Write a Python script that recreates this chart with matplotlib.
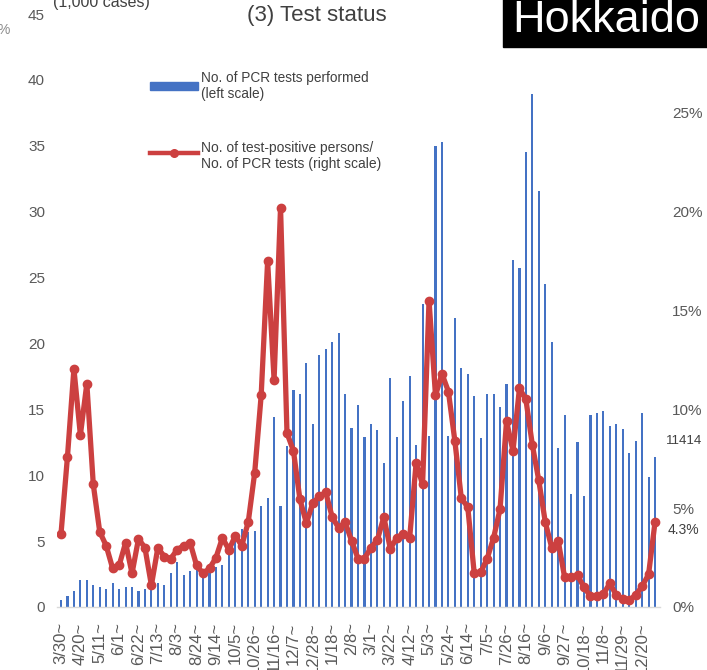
import matplotlib
matplotlib.use("Agg")
import matplotlib.pyplot as plt
from matplotlib import font_manager
from matplotlib.lines import Line2D
from matplotlib.patches import Rectangle

# ---------------- data ----------------
weeks = [
    "3/30", "4/6", "4/13", "4/20", "4/27", "5/4", "5/11", "5/18", "5/25", "6/1",
    "6/8", "6/15", "6/22", "6/29", "7/6", "7/13", "7/20", "7/27", "8/3", "8/10",
    "8/17", "8/24", "8/31", "9/7", "9/14", "9/21", "9/28", "10/5", "10/12", "10/19",
    "10/26", "11/2", "11/9", "11/16", "11/23", "11/30", "12/7", "12/14", "12/21", "12/28",
    "1/4", "1/11", "1/18", "1/25", "2/1", "2/8", "2/15", "2/22", "3/1", "3/8",
    "3/15", "3/22", "3/29", "4/5", "4/12", "4/19", "4/26", "5/3", "5/10", "5/17",
    "5/24", "5/31", "6/7", "6/14", "6/21", "6/28", "7/5", "7/12", "7/19", "7/26",
    "8/2", "8/9", "8/16", "8/23", "8/30", "9/6", "9/13", "9/20", "9/27", "10/4",
    "10/11", "10/18", "10/25", "11/1", "11/8", "11/15", "11/22", "11/29", "12/6", "12/13",
    "12/20", "12/27", "1/3",
]

# No. of PCR tests performed (1,000 cases), left scale
pcr_tests = [
    0.5, 0.85, 1.2, 2.05, 2.05, 1.7, 1.5, 1.35, 1.85, 1.35,
    1.5, 1.5, 1.2, 1.4, 1.45, 1.8, 1.7, 2.55, 3.4, 2.4,
    2.7, 3.0, 2.7, 2.6, 3.0, 3.2, 4.2, 5.0, 5.9, 5.7,
    5.8, 7.7, 8.3, 14.4, 7.7, 12.2, 16.5, 16.2, 18.5, 13.9,
    19.1, 19.6, 20.1, 20.8, 16.2, 13.6, 15.3, 12.9, 13.9, 13.4,
    10.9, 17.4, 12.9, 15.6, 17.5, 12.3, 23.0, 13.0, 35.0, 35.3,
    13.0, 21.9, 18.1, 17.7, 16.0, 12.85, 16.2, 16.2, 15.2, 16.9,
    26.3, 25.7, 34.5, 38.9, 31.6, 24.5, 20.1, 12.1, 14.6, 8.6,
    12.5, 8.4, 14.6, 14.7, 14.9, 13.7, 13.85, 13.5, 11.7, 12.6,
    14.7, 9.9, 11.414,
]

# No. of test-positive persons / No. of PCR tests (%), right scale
positivity = [
    3.7, 7.6, 12.05, 8.7, 11.3, 6.2, 3.8, 3.1, 1.95, 2.1,
    3.25, 1.7, 3.45, 3.0, 1.1, 3.0, 2.55, 2.45, 2.9, 3.1,
    3.25, 2.1, 1.7, 1.95, 2.5, 3.5, 2.9, 3.6, 3.1, 4.3,
    6.8, 10.7, 17.5, 11.5, 20.2, 8.8, 7.9, 5.45, 4.25, 5.25,
    5.6, 5.8, 4.55, 4.0, 4.3, 3.35, 2.45, 2.45, 3.0, 3.4,
    4.55, 2.95, 3.5, 3.7, 3.5, 7.3, 6.2, 15.5, 10.7, 11.8,
    10.9, 8.4, 5.5, 5.05, 1.7, 1.75, 2.45, 3.5, 4.96, 9.4,
    7.9, 11.06, 10.5, 8.2, 6.4, 4.3, 3.0, 3.35, 1.5, 1.5,
    1.6, 1.0, 0.55, 0.55, 0.65, 1.2, 0.6, 0.42, 0.35, 0.6,
    1.05, 1.65, 4.3,
]

left_ticks = [0, 5, 10, 15, 20, 25, 30, 35, 40, 45]
right_ticks = [0, 5, 10, 15, 20, 25, 30]
right_tick_labels = ["0%", "5%", "10%", "15%", "20%", "25%", "30%"]
label_step = 3
last_test_label = "11414"
last_rate_label = "4.3%"

legend_bar_text = "No. of PCR tests performed\n(left scale)"
legend_line_text = "No. of test-positive persons/\nNo. of PCR tests (right scale)"

assert len(weeks) == len(pcr_tests) == len(positivity)

# ---------------- fonts ----------------
def has_font(name):
    try:
        font_manager.findfont(name, fallback_to_default=False)
        return True
    except Exception:
        return False

NARROW = "Liberation Sans Narrow" if has_font("Liberation Sans Narrow") else "Liberation Sans"
SANS = "Liberation Sans"
plt.rcParams["font.family"] = [SANS, "DejaVu Sans"]

BLUE = "#4472C4"
RED = "#CC4040"
TICK_GRAY = "#595959"
TEXT_DARK = "#404040"

W, H = 707, 670
fig = plt.figure(figsize=(W / 100, H / 100), dpi=100)
fig.patch.set_facecolor("white")

ax_left, ax_right, ax_bottom, ax_top = 57, 660, 607, 14
ax = fig.add_axes([ax_left / W, (H - ax_bottom) / H,
                   (ax_right - ax_left) / W, (ax_bottom - ax_top) / H])

x = list(range(len(weeks)))
ax.bar(x, pcr_tests, width=0.33, color=BLUE, zorder=2)
ax.set_ylim(0, 45)
ax.set_xlim(-0.62, len(weeks) - 1 + 0.77)
ax.set_yticks(left_ticks)
ax.set_yticklabels([str(t) for t in left_ticks], fontfamily=NARROW,
                   fontsize=11, color=TICK_GRAY)
ax.tick_params(axis="y", length=0, pad=8.6)

tick_pos = x[::label_step]
ax.set_xticks(tick_pos)
ax.set_xticklabels([weeks[i] + "~" for i in tick_pos], rotation=90,
                   fontsize=12, color=TICK_GRAY, fontfamily=SANS)
ax.tick_params(axis="x", length=0, pad=11)

for s in ["top", "left", "right"]:
    ax.spines[s].set_visible(False)
ax.spines["bottom"].set_color("#D9D9D9")
ax.spines["bottom"].set_linewidth(1.0)

ax2 = ax.twinx()
ax2.plot(x, positivity, color=RED, lw=3.8, marker="o", ms=6,
         solid_joinstyle="round", solid_capstyle="round", zorder=3)
ax2.set_ylim(0, 30)
ax2.set_yticks(right_ticks)
ax2.set_yticklabels(right_tick_labels, fontfamily=NARROW, fontsize=11,
                    color=TICK_GRAY)
ax2.tick_params(axis="y", length=0, pad=8.6)
for s in ax2.spines.values():
    s.set_visible(False)

# annotations of last values
ax.annotate(last_test_label, xy=(x[-1], pcr_tests[-1]), xytext=(29, 16),
            textcoords="offset pixels", ha="center", va="center",
            fontsize=9.5, fontfamily=NARROW, color=TEXT_DARK, zorder=5)
ax2.annotate(last_rate_label, xy=(x[-1], positivity[-1]), xytext=(28, -8),
             textcoords="offset pixels", ha="center", va="center",
             fontsize=10, fontfamily=NARROW, color=TEXT_DARK, zorder=5)

# ---------------- legend (manual) ----------------
def fx(px):
    return px / W

def fy(py):
    return 1 - py / H

fig.add_artist(Rectangle((fx(150), fy(89.5)), fx(198) - fx(150), fy(82.5) - fy(89.5),
                         transform=fig.transFigure, color=BLUE, zorder=6))
fig.text(fx(201), fy(86), legend_bar_text, ha="left", va="center", fontsize=9.8,
         color=TEXT_DARK, linespacing=1.25, zorder=6)
fig.add_artist(Line2D([fx(150), fx(174), fx(198)], [fy(153)] * 3,
                      transform=fig.transFigure, color=RED, lw=3.2,
                      marker="o", ms=5.5, markevery=[1], zorder=6))
fig.text(fx(201), fy(156), legend_line_text, ha="left", va="center", fontsize=10,
         color=TEXT_DARK, linespacing=1.25, zorder=6)

# ---------------- titles ----------------
fig.text(fx(53), fy(3), "(1,000 cases)", ha="left", va="center", fontsize=11.5,
         color=TEXT_DARK, zorder=6)
fig.text(fx(-3), fy(30), "%", ha="left", va="center", fontsize=10,
         fontfamily=NARROW, color="#8c8c8c", zorder=6)
fig.text(fx(317), fy(15), "(3) Test status", ha="center", va="center", fontsize=16,
         color=TEXT_DARK, zorder=6)

fig.add_artist(Rectangle((fx(503), fy(47)), fx(720) - fx(503), fy(-10) - fy(47),
                         transform=fig.transFigure, color="black", zorder=10))
fig.text(fx(512), fy(21), "Hokkaido", ha="left", va="center", fontsize=32.5,
         color="white", zorder=11)

fig.savefig("out.png", dpi=100, facecolor="white")
